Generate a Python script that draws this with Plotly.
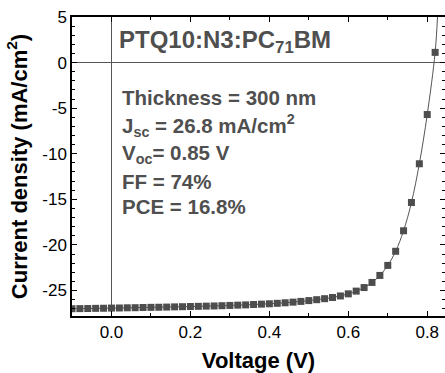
import plotly.graph_objects as go

# Measured J-V points (every 0.02 V)
voltage = [-0.10, -0.08, -0.06, -0.04, -0.02, 0.00, 0.02, 0.04, 0.06, 0.08,
           0.10, 0.12, 0.14, 0.16, 0.18, 0.20, 0.22, 0.24, 0.26, 0.28,
           0.30, 0.32, 0.34, 0.36, 0.38, 0.40, 0.42, 0.44, 0.46, 0.48,
           0.50, 0.52, 0.54, 0.56, 0.58, 0.60, 0.62, 0.64, 0.66, 0.68,
           0.70, 0.72, 0.74, 0.76, 0.78, 0.80, 0.82]
current = [-27.00, -26.99, -26.98, -26.96, -26.95, -26.93, -26.92, -26.90, -26.89, -26.87,
           -26.85, -26.84, -26.82, -26.80, -26.78, -26.76, -26.74, -26.72, -26.70, -26.67,
           -26.64, -26.61, -26.58, -26.54, -26.50, -26.46, -26.41, -26.35, -26.28, -26.20,
           -26.11, -26.01, -25.90, -25.77, -25.60, -25.37, -25.07, -24.68, -24.12, -23.35,
           -22.25, -20.70, -18.45, -15.35, -11.10, -5.70, 1.12]

# Fitted curve continues past the last point up to the top axis
fit_voltage = voltage + [0.826]
fit_current = current + [5.0]

x_ticks = [0.0, 0.2, 0.4, 0.6, 0.8]
x_tick_text = ["0.0", "0.2", "0.4", "0.6", "0.8"]
y_ticks = [5, 0, -5, -10, -15, -20, -25]
y_tick_text = ["5", "0", "-5", "-10", "-15", "-20", "-25"]

title_text = "<b>PTQ10:N3:PC<sub>71</sub>BM</b>"
info_lines = [
    "<b>Thickness = 300 nm</b>",
    "<b>J<sub>sc</sub> = 26.8 mA/cm<sup>2</sup></b>",
    "<b>V<sub>oc</sub>= 0.85 V</b>",
    "<b>FF = 74%</b>",
    "<b>PCE = 16.8%</b>",
]

GRAY = "#4f4f4f"
FONT = "Liberation Sans, Arial, sans-serif"

fig = go.Figure()
fig.add_trace(go.Scatter(
    x=fit_voltage, y=fit_current, mode="lines",
    line=dict(color="#555555", width=1, shape="spline"),
    hoverinfo="skip", showlegend=False,
))
fig.add_trace(go.Scatter(
    x=voltage, y=current, mode="markers",
    marker=dict(symbol="square", size=7, color="#4d4d4d"),
    showlegend=False,
))

fig.add_annotation(text=title_text, xref="paper", yref="paper",
                   x=0.12, y=0.918, xanchor="left", yanchor="middle",
                   showarrow=False, font=dict(family=FONT, size=24, color=GRAY))
info_y = [0.731, 0.637, 0.542, 0.450, 0.366]
for txt, yy in zip(info_lines, info_y):
    fig.add_annotation(text=txt, xref="paper", yref="paper",
                       x=0.130, y=yy, xanchor="left", yanchor="middle",
                       showarrow=False, font=dict(family=FONT, size=20.5, color=GRAY))

axis_common = dict(
    showline=True, linecolor="black", linewidth=1.5, mirror="allticks",
    ticks="inside", ticklen=5, tickwidth=1.2, tickcolor="black",
    showgrid=False, zeroline=True, zerolinecolor="#555555", zerolinewidth=1.3,
    tickfont=dict(family=FONT, size=17, color="black"),
)

fig.update_xaxes(
    range=[-0.1, 0.845], tickvals=x_ticks, ticktext=x_tick_text,
    minor=dict(dtick=0.1, tick0=0, ticks="inside", ticklen=3, tickcolor="black", tickwidth=1),
    title=dict(text="<b>Voltage (V)</b>", font=dict(family=FONT, size=22, color="black"), standoff=13),
    **axis_common,
)
fig.update_yaxes(
    range=[-27.8, 5], tickvals=y_ticks, ticktext=y_tick_text,
    minor=dict(dtick=1, tick0=0, ticks="inside", ticklen=3, tickcolor="black", tickwidth=1),
    title=dict(text="<b>Current density (mA/cm<sup>2</sup>)</b>", font=dict(family=FONT, size=22, color="black"), standoff=9),
    **axis_common,
)

fig.update_layout(
    width=445, height=373,
    margin=dict(l=72, r=0, t=17, b=57, autoexpand=False),
    plot_bgcolor="white", paper_bgcolor="white",
    font=dict(family=FONT),
)

fig.write_html("out.html")
